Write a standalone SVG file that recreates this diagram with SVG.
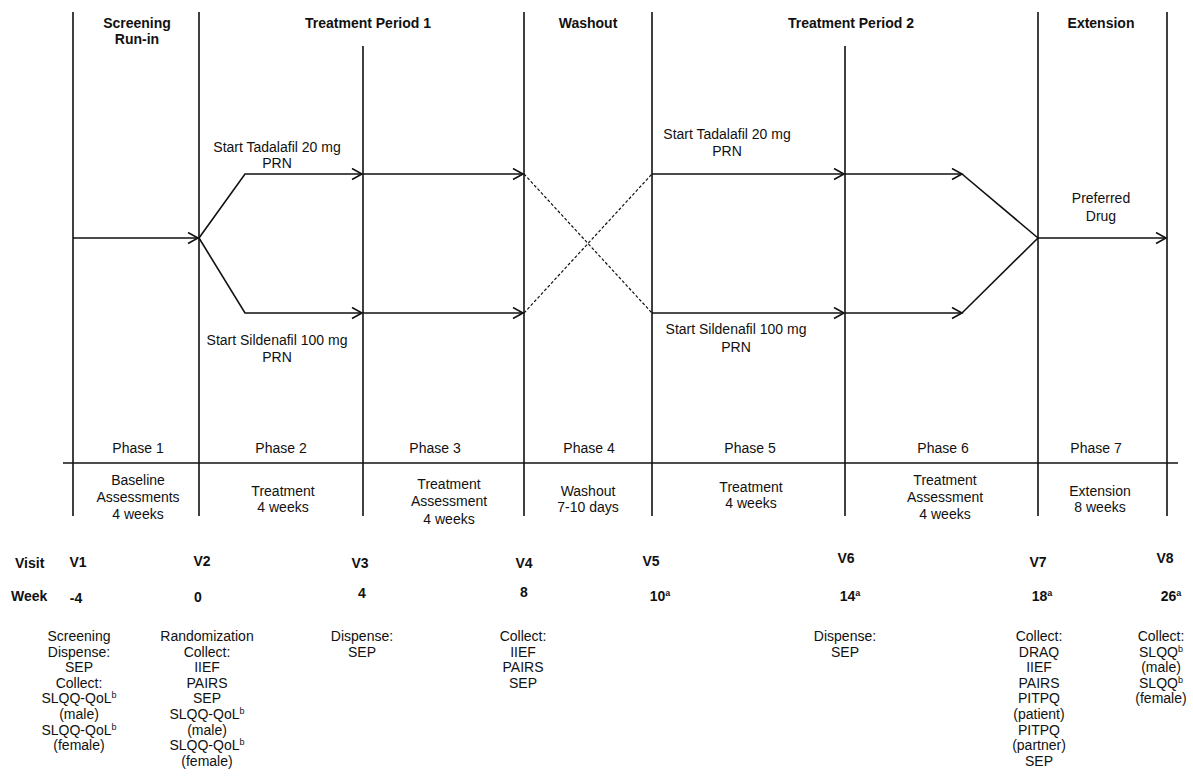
<svg xmlns="http://www.w3.org/2000/svg" width="1193" height="778" viewBox="0 0 1193 778">
<style>
text{font-family:"Liberation Sans",Arial,sans-serif;font-size:14px;fill:#111;text-anchor:middle}
.b{font-weight:bold}
.l{text-anchor:start}
.grid{stroke:#111;stroke-width:1.6;fill:none}
.c{stroke:#111;stroke-width:1.6;fill:none}
.d{stroke:#111;stroke-width:1.2;fill:none;stroke-dasharray:3 2}
.sup{font-size:9px}
</style>
<defs>
<marker id="ah" markerUnits="userSpaceOnUse" markerWidth="14" markerHeight="14" refX="11" refY="6" orient="auto">
<path d="M1,0.5 L11,6 L1,11.5" fill="none" stroke="#111" stroke-width="1.6"/>
</marker>
</defs>
<g id="grid">
<line class="grid" x1="73" y1="12" x2="73" y2="516"/>
<line class="grid" x1="199" y1="12" x2="199" y2="516"/>
<line class="grid" x1="363" y1="46" x2="363" y2="516"/>
<line class="grid" x1="524" y1="12" x2="524" y2="516"/>
<line class="grid" x1="652" y1="12" x2="652" y2="516"/>
<line class="grid" x1="845" y1="46" x2="845" y2="516"/>
<line class="grid" x1="1038" y1="12" x2="1038" y2="516"/>
<line class="grid" x1="1167" y1="12" x2="1167" y2="516"/>
<line class="grid" x1="63" y1="463" x2="1178" y2="463"/>
</g>
<g id="headers">
<text class="b" x="137" y="28">Screening</text>
<text class="b" x="137" y="44">Run-in</text>
<text class="b" x="368" y="28">Treatment Period 1</text>
<text class="b" x="588" y="28">Washout</text>
<text class="b" x="851" y="28">Treatment Period 2</text>
<text class="b" x="1101" y="28">Extension</text>
</g>
<g id="connectors">
<path class="c" d="M73,238 L198,238" marker-end="url(#ah)"/>
<path class="c" d="M199,238 L245,174 L362,174" marker-end="url(#ah)"/>
<path class="c" d="M363,174 L523,174" marker-end="url(#ah)"/>
<path class="c" d="M199,238 L245,313 L362,313" marker-end="url(#ah)"/>
<path class="c" d="M363,313 L523,313" marker-end="url(#ah)"/>
<path class="d" d="M524,174 L652,313"/>
<path class="d" d="M524,313 L652,174"/>
<path class="c" d="M652,174 L844,174" marker-end="url(#ah)"/>
<path class="c" d="M845,174 L962,174" marker-end="url(#ah)"/>
<path class="c" d="M962,174 L1038,238"/>
<path class="c" d="M652,313 L844,313" marker-end="url(#ah)"/>
<path class="c" d="M845,313 L962,313" marker-end="url(#ah)"/>
<path class="c" d="M962,313 L1038,238"/>
<path class="c" d="M1038,238 L1166,238" marker-end="url(#ah)"/>
</g>
<g id="arm-labels">
<text x="277" y="152">Start Tadalafil 20 mg</text>
<text x="277" y="168">PRN</text>
<text x="277" y="345">Start Sildenafil 100 mg</text>
<text x="277" y="362">PRN</text>
<text x="727" y="139">Start Tadalafil 20 mg</text>
<text x="727" y="156">PRN</text>
<text x="736" y="334">Start Sildenafil 100 mg</text>
<text x="736" y="352">PRN</text>
<text x="1101" y="203">Preferred</text>
<text x="1101" y="221">Drug</text>
</g>
<g id="phases">
<text x="138" y="453">Phase 1</text>
<text x="281" y="453">Phase 2</text>
<text x="435" y="453">Phase 3</text>
<text x="589" y="453">Phase 4</text>
<text x="750" y="453">Phase 5</text>
<text x="943" y="453">Phase 6</text>
<text x="1096" y="453">Phase 7</text>
</g>
<g id="phase-desc">
<text x="138" y="485">Baseline</text>
<text x="138" y="502">Assessments</text>
<text x="138" y="519">4 weeks</text>
<text x="283" y="496">Treatment</text>
<text x="283" y="512">4 weeks</text>
<text x="449" y="489">Treatment</text>
<text x="449" y="506">Assessment</text>
<text x="449" y="524">4 weeks</text>
<text x="588" y="496">Washout</text>
<text x="588" y="512">7-10 days</text>
<text x="751" y="492">Treatment</text>
<text x="751" y="508">4 weeks</text>
<text x="945" y="485">Treatment</text>
<text x="945" y="502">Assessment</text>
<text x="945" y="519">4 weeks</text>
<text x="1100" y="496">Extension</text>
<text x="1100" y="512">8 weeks</text>
</g>
<g id="visits">
<text class="b l" x="15" y="568">Visit</text>
<text class="b l" x="11" y="601">Week</text>
<text class="b" x="78" y="567">V1</text>
<text class="b" x="202" y="566">V2</text>
<text class="b" x="360" y="568">V3</text>
<text class="b" x="524" y="568">V4</text>
<text class="b" x="651" y="566">V5</text>
<text class="b" x="846" y="563">V6</text>
<text class="b" x="1038" y="567">V7</text>
<text class="b" x="1165" y="563">V8</text>
<text class="b" x="76" y="603">-4</text>
<text class="b" x="198" y="602">0</text>
<text class="b" x="362" y="598">4</text>
<text class="b" x="524" y="597">8</text>
<text class="b" x="660" y="601">10<tspan class="sup" dy="-5">a</tspan></text>
<text class="b" x="850" y="601">14<tspan class="sup" dy="-5">a</tspan></text>
<text class="b" x="1042" y="601">18<tspan class="sup" dy="-5">a</tspan></text>
<text class="b" x="1171" y="601">26<tspan class="sup" dy="-5">a</tspan></text>
</g>
<g id="v1-tasks">
<text x="79" y="641">Screening</text>
<text x="79" y="657">Dispense:</text>
<text x="79" y="672">SEP</text>
<text x="79" y="688">Collect:</text>
<text x="79" y="703">SLQQ-QoL<tspan class="sup" dy="-5">b</tspan></text>
<text x="79" y="719">(male)</text>
<text x="79" y="735">SLQQ-QoL<tspan class="sup" dy="-5">b</tspan></text>
<text x="79" y="750">(female)</text>
</g>
<g id="v2-tasks">
<text x="207" y="641">Randomization</text>
<text x="207" y="657">Collect:</text>
<text x="207" y="672">IIEF</text>
<text x="207" y="688">PAIRS</text>
<text x="207" y="703">SEP</text>
<text x="207" y="719">SLQQ-QoL<tspan class="sup" dy="-5">b</tspan></text>
<text x="207" y="735">(male)</text>
<text x="207" y="750">SLQQ-QoL<tspan class="sup" dy="-5">b</tspan></text>
<text x="207" y="766">(female)</text>
</g>
<g id="v3-tasks">
<text x="362" y="641">Dispense:</text>
<text x="362" y="657">SEP</text>
</g>
<g id="v4-tasks">
<text x="523" y="641">Collect:</text>
<text x="523" y="657">IIEF</text>
<text x="523" y="672">PAIRS</text>
<text x="523" y="688">SEP</text>
</g>
<g id="v6-tasks">
<text x="845" y="641">Dispense:</text>
<text x="845" y="657">SEP</text>
</g>
<g id="v7-tasks">
<text x="1039" y="641">Collect:</text>
<text x="1039" y="657">DRAQ</text>
<text x="1039" y="672">IIEF</text>
<text x="1039" y="688">PAIRS</text>
<text x="1039" y="703">PITPQ</text>
<text x="1039" y="719">(patient)</text>
<text x="1039" y="735">PITPQ</text>
<text x="1039" y="750">(partner)</text>
<text x="1039" y="766">SEP</text>
</g>
<g id="v8-tasks">
<text x="1161" y="641">Collect:</text>
<text x="1161" y="657">SLQQ<tspan class="sup" dy="-5">b</tspan></text>
<text x="1161" y="672">(male)</text>
<text x="1161" y="688">SLQQ<tspan class="sup" dy="-5">b</tspan></text>
<text x="1161" y="703">(female)</text>
</g>
</svg>
